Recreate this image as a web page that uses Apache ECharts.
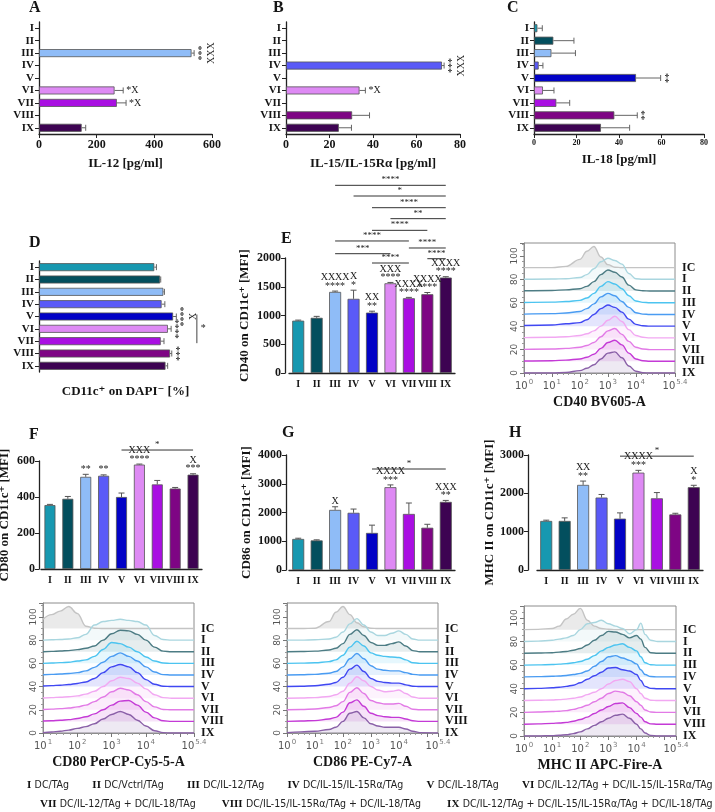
<!DOCTYPE html>
<html><head><meta charset="utf-8">
<script src="https://cdn.jsdelivr.net/npm/echarts@6/dist/echarts.min.js"></script>
<style>html,body{margin:0;padding:0;background:#fff}#c{width:715px;height:812px}</style>
</head><body><div id="c"></div>
<script>
// ---------------- DATA ----------------
const cats = ['I','II','III','IV','V','VI','VII','VIII','IX'];

// A: IL-12 [pg/ml]
const il12Mean = [null,null,529,null,null,262,270,null,148];
const il12Sd   = [null,null,9,null,null,30,32,null,14];
const il12Sig  = ['','','***\nXXX','','','*X','*X','',''];
// B: IL-15/IL-15Rα [pg/ml]
const il15Mean = [null,null,null,71.7,null,33.8,null,30.4,24.3];
const il15Sd   = [null,null,null,1,null,2.7,null,8,5.8];
const il15Sig  = ['','','','***\nXXX','','*X','','',''];
// C: IL-18 [pg/ml]
const il18Mean = [1.6,9.1,8.2,2.2,48,4.2,10.5,37.8,31.5];
const il18Sd   = [2.3,9.7,11.3,2,11.6,5.2,6.3,10.8,13.5];
const il18Sig  = ['','','','','**','','','**',''];
// D: CD11c+ on DAPI- [%]
const dcMean = [53.3,56,57.5,56.7,62,59.6,56.3,60.6,58.5];
const dcSd   = [1,0.3,0.5,1.5,1.5,1.5,1.5,0.8,1];
const dcSig  = ['','','','','****\nX','****','','***',''];
const dcBrackets = [[73,4,6,'*']];
// E: CD40 on CD11c+ [MFI]
const cd40Mean = [910,960,1410,1290,1050,1560,1300,1370,1660];
const cd40Sd   = [10,25,15,150,25,15,15,30,15];
const cd40Sig  = ['','','XXXX\n****','X\n*','XX\n**','XXX\n****','XXXX\n****','XXXX\n****','XXXX\n****'];
const cd40Brackets = [[2,8,3264,'****'],[3,8,3078,'*'],[4,8,2875,'****'],[5,8,2684,'**'],[4,7,2481,'****'],
  [2,6,2296,'****'],[2,5,2075,'***'],[6,8,2174,'****'],[7,8,1988,'****'],[4,6,1913,'****']];
// F: CD80 on CD11c+ [MFI]
const cd80Mean = [355,390,512,518,400,580,470,447,524];
const cd80Sd   = [4,13,14,5,22,3,22,6,5];
const cd80Sig  = ['','','**','**','','XXX\n****','','','X\n***'];
const cd80Brackets = [[4,8,661,'*']];
// G: CD86 on CD11c+ [MFI]
const cd86Mean = [1080,1030,2090,1990,1290,2880,1950,1470,2370];
const cd86Sd   = [25,20,110,130,270,80,380,120,50];
const cd86Sig  = ['','','X','','','XXXX\n***','','','XXX\n**'];
const cd86Brackets = [[4,8,3513,'*']];
// H: MHC II on CD11c+ [MFI]
const mhcMean = [1280,1280,2220,1890,1340,2540,1870,1450,2160];
const mhcSd   = [20,80,100,80,150,60,150,30,50];
const mhcSig  = ['','','XX\n**','','','XXXX\n***','','','X\n*'];
const mhcBrackets = [[4,8,2970,'*']];

// Histograms (log10 fluorescence positions; heights above each offset)
const histLabels  = ['IC','I','II','III','IV','V','VI','VII','VIII','IX'];
const histOffsets = [90,80,70,60,50,40,30,20,10,0];

const cd40X = [0,1,1.5,2,2.25,2.5,2.75,3,3.25,3.5,3.75,4,4.25,4.5,5.4];
const cd40Curves = [
  [0,0,1,7,14,18,9,2.5,0.3,0,0,0,0,0,0],
  [0,0.2,0.5,1.5,4,9,15,18,16,13,5,0.5,0,0,0],
  [0.2,0.5,1,2,4,8,14,18,16,12,5,1,0.2,0,0],
  [0.2,0.5,1,2,4,8,14,18,16,12,6,1.5,0.3,0,0],
  [0.3,0.7,1.2,2.5,5,9,15,18,16,11,6,1.5,0.3,0,0],
  [0.5,1,2,3,5.5,10,15,18,16,12,6,1.5,0.3,0,0],
  [0.2,0.5,1,2,3.5,6,10,15,18.5,14,7,2,0.5,0,0],
  [0.2,0.5,1,2,3.5,6,11,16,18,13,7,2,0.5,0,0],
  [0.2,0.5,1,2,3.5,6,11,16,18,14,7,2,0.5,0,0],
  [0,0,0.5,2,4,7,12,17,18,13,6,1.5,0.2,0,0]
];
const cd80X = [1,1.25,1.5,1.75,2,2.25,2.5,2.75,3,3.25,3.5,3.75,4,4.25,4.5,4.75,5.4];
const cd80Curves = [
  [8,12,15,19,13,2,0.3,0,0,0,0,0,0,0,0,0,0],
  [0,0.3,0.6,1,2,5,13,16,17,18,17,16,13,4,0.5,0,0],
  [0,0.3,0.6,1,1.8,3,5,10,15.5,18.5,18,15,10,4,0.5,0,0],
  [0,0.3,0.6,1,2,3,6,12,18,17,14,10,5.5,2,0.3,0,0],
  [0.2,0.5,0.8,1.2,2,3.5,6.5,11,16,19,16,12,7,2.5,0.3,0,0],
  [0.5,0.8,1.2,1.8,2.7,4,7,12,17,19,17,12,6,2,0.3,0,0],
  [0.2,0.5,0.8,1.2,2,3.5,6,10,15,18,17,13,8,3,0.5,0,0],
  [0.3,0.6,1,1.5,2.5,4,7,11,15.5,18.5,17,13,7,2.5,0.3,0,0],
  [0.3,0.6,1,1.5,2.5,4,6.5,10,14,17.5,18,14,8,3,0.5,0,0],
  [0.3,0.8,1.5,2.5,4,5.5,8,12,16,18.5,16,11,6,2,0.3,0,0]
];
const cd86X = [0,0.5,1,1.5,1.75,2,2.25,2.5,2.75,3,3.25,3.5,3.75,4,4.25,4.5,4.75,5.4];
const cd86Curves = [
  [0,0,0.3,6,14,19,12,5,1.5,0.3,0,0,0,0,0,0,0,0],
  [0,0,0.3,1,2.5,7,14,18.5,13,7,4,4,6,8,5,1,0,0],
  [0,0.2,0.5,1.5,3,7,15,19,14,8,5.5,5.5,7,8.5,5,1,0,0],
  [0,0.2,0.5,1.5,3,7,14,19,15,9,7,6,5.5,5,3,0.5,0,0],
  [0,0.2,0.5,1.5,3,7,14,18.5,14,8,5,4,3.5,3.5,2,0.5,0,0],
  [0,0.3,0.7,2,3.5,8,15,18.5,13,7,4.5,3.5,3,3,1.5,0.3,0,0],
  [0,0.2,0.5,1.5,3,6,13,18.5,15,10,7,5.5,6,7,4,1,0,0],
  [0,0.3,0.7,2,3.5,7,15,19,14,8,6,5,5,5.5,3,0.5,0,0],
  [0,0.3,0.7,2,3.5,8,16,18.5,13,7,5,4,3.5,3.5,2,0.5,0,0],
  [0.3,1,1.5,3,5,10,17,18.5,13,8,6,5,5,5,3.5,1.5,0.3,0]
];
const mhcX = [0,0.5,1,1.25,1.5,1.75,2,2.25,2.5,2.75,3,3.25,3.5,3.75,4,4.15,4.3,4.5,4.75,5.4];
const mhcCurves = [
  [0,0.2,1,3,9,13,18,8,3,1,0.3,0,0,0,0,0,0,0,0,0],
  [0,0.3,1,2,3,5,10,15,16,18,15,13,11,6.5,10,15.5,6,1,0,0],
  [0,0.2,0.5,1,1.5,2.5,4,7,11,15,18.5,18,16,13,15,12,5,0.5,0,0],
  [0,0.2,0.5,0.8,1.2,2,3,5,8,12,15,17,18,15,12,7,2,0.3,0,0],
  [0,0.2,0.5,0.8,1.2,2,3,5,9,13,17,18,16,14,11,6,2,0.3,0,0],
  [0,0.3,0.8,1.2,2,3,5,8,11,14,17.5,18,16,15,12,7,2,0.3,0,0],
  [0,0.2,0.5,0.8,1.2,2,3,5,7,10,14,17,18,16,10,6,2,0.3,0,0],
  [0,0.3,0.7,1,1.5,2.5,4,6,9,12,16,18,17,14,9,6,2,0.3,0,0],
  [0,0.3,0.7,1,1.5,2.5,4,6,9,12,15,17.5,18,14,9,6,2,0.3,0,0],
  [0,0,0.3,0.6,1,2,3.5,6,9,12,15,17.5,18.5,15,10,6,2.5,0.5,0,0]
];

const legendLine1 = [['I','DC/TAg'],['II','DC/Vctrl/TAg'],['III','DC/IL-12/TAg'],['IV','DC/IL-15/IL-15Rα/TAg'],['V','DC/IL-18/TAg'],['VI','DC/IL-12/TAg + DC/IL-15/IL-15Rα/TAg']];
const legendLine2 = [['VII','DC/IL-12/TAg + DC/IL-18/TAg'],['VIII','DC/IL-15/IL-15Rα/TAg + DC/IL-18/TAg'],['IX','DC/IL-12/TAg + DC/IL-15/IL-15Rα/TAg + DC/IL-18/TAg']];

// ---------------- STYLE ----------------
const barColors = ['#1798b0','#034f5e','#8fbcf7','#5a5af7','#0202c6','#de8af4','#a90fe2','#7e0584','#3d0352'];
const histColors = ['#c4c4c4','#a9d6df','#4d7c84','#4cc4f0','#4a9cf2','#4048f2','#f2a8f2','#e27ae6','#c43ad6','#8a60a8'];
const serif = "'Liberation Serif','DejaVu Serif',serif";
const sans = "'DejaVu Sans','Liberation Sans',sans-serif";
const cond = "'DejaVu Sans Condensed','Liberation Sans Narrow','Roboto Condensed','Liberation Sans',sans-serif";
const ink = '#151515';
const plain = v => String(v);

const opt = {animation:false, backgroundColor:'#fff', grid:[], xAxis:[], yAxis:[], series:[], graphic:[]};

function sigRich(s){
  return s.split('\n').map(l => (l.indexOf('X')>=0 ? '{x|'+l+'}' : '{s|'+l+'}')).join('\n');
}
const sigRichStyle = {x:{fontFamily:serif,fontSize:10,fill:'#222',lineHeight:9}, s:{fontFamily:serif,fontSize:10,fill:'#222',lineHeight:8}};

function axisLineStyle(){ return {show:true, lineStyle:{color:'#222', width:1.3}}; }

function hPanel(p){
  const gi = opt.grid.length;
  opt.grid.push({left:p.left, top:p.top, width:p.width, height:p.height, outerBoundsMode:'none', containLabel:false});
  opt.xAxis.push({type:'value', gridIndex:gi, min:0, max:p.max, interval:p.interval,
    axisLine:{show:!p.bare, lineStyle:{color:'#222', width:1.3}}, axisTick:{show:!p.bare, length:4, lineStyle:{color:'#222'}},
    splitLine:{show:false}, axisLabel:{show:!p.bare, fontFamily:serif, fontWeight:'bold', fontSize:p.tick||12, color:ink, margin:5, formatter:plain},
    name:p.name, nameLocation:'middle', nameGap:p.nameGap,
    nameTextStyle:{fontFamily:serif, fontWeight:'bold', fontSize:13, color:ink}});
  opt.yAxis.push({type:'category', gridIndex:gi, data:cats, inverse:true,
    axisLine:axisLineStyle(), axisTick:{show:true, alignWithLabel:true, interval:0, length:4, lineStyle:{color:'#222'}},
    axisLabel:{interval:0, fontFamily:serif, fontWeight:'bold', fontSize:11, color:ink, margin:5}});
  opt.series.push({type:'bar', xAxisIndex:gi, yAxisIndex:gi, barWidth:8,
    data:p.vals.map((v,i)=> v==null ? '-' : {value:v, itemStyle:{color:barColors[i]}}),
    itemStyle:{borderColor:'#555', borderWidth:0.8}});
  const vals=p.vals, sds=p.sds, sigs=p.sigs;
  opt.series.push({type:'custom', xAxisIndex:gi, yAxisIndex:gi, clip:false, z:5,
    data: cats.map((c,i)=>[vals[i]==null?0:vals[i], i]),
    renderItem(params, api){
      const i=params.dataIndex; if(vals[i]==null) return null;
      const a=api.coord([vals[i], i]), b=api.coord([vals[i]+sds[i], i]);
      const ch=[
        {type:'line', shape:{x1:a[0],y1:a[1],x2:b[0],y2:b[1]}, style:{stroke:'#666',lineWidth:1}},
        {type:'line', shape:{x1:b[0],y1:b[1]-3,x2:b[0],y2:b[1]+3}, style:{stroke:'#666',lineWidth:1}}];
      const s=sigs[i];
      if(s){
        const rot = s.indexOf('\n')>=0 || s.indexOf('X')<0;
        if(rot){
          const n = s.split('\n').length;
          ch.push({type:'text', x:b[0]+4+n*4.5, y:b[1], rotation:Math.PI/2,
            style:{text:s, fontFamily:serif, fontSize:10, fill:'#222', align:'center', verticalAlign:'middle', lineHeight:9}});
        } else {
          ch.push({type:'text', x:b[0]+3, y:b[1], style:{text:s, fontFamily:serif, fontSize:10, fill:'#222', align:'left', verticalAlign:'middle'}});
        }
      }
      return {type:'group', children:ch};
    }});
  if(p.brackets){
    const br=p.brackets;
    opt.series.push({type:'custom', xAxisIndex:gi, yAxisIndex:gi, clip:false, z:5,
      data: br.map(b=>[b[0], b[1]]),
      renderItem(params, api){
        const b=br[params.dataIndex];
        const p1=api.coord([b[0], b[1]]), p2=api.coord([b[0], b[2]]);
        return {type:'group', children:[
          {type:'line', shape:{x1:p1[0],y1:p1[1]-2,x2:p2[0],y2:p2[1]+2}, style:{stroke:'#444',lineWidth:1}},
          {type:'text', x:p1[0]+4, y:(p1[1]+p2[1])/2, style:{text:b[3], fontFamily:serif, fontSize:10, fill:'#222', align:'left', verticalAlign:'middle'}}]};
      }});
  }
}

function vPanel(p){
  const gi = opt.grid.length;
  opt.grid.push({left:p.left, top:p.top, width:p.width, height:p.height, outerBoundsMode:'none', containLabel:false});
  opt.xAxis.push({type:'category', gridIndex:gi, data:cats,
    axisLine:axisLineStyle(), axisTick:{show:false},
    axisLabel:{interval:0, fontFamily:serif, fontWeight:'bold', fontSize:10, color:ink, margin:6}});
  opt.yAxis.push({type:'value', gridIndex:gi, min:0, max:p.max, interval:p.interval, offset:p.offset,
    axisLine:axisLineStyle(), axisTick:{show:true, length:4, lineStyle:{color:'#222'}},
    splitLine:{show:false}, axisLabel:{fontFamily:serif, fontWeight:'bold', fontSize:12, color:ink, margin:4, formatter:plain},
    name:p.name, nameLocation:'middle', nameGap:p.nameGap, nameRotate:90,
    nameTextStyle:{fontFamily:serif, fontWeight:'bold', fontSize:13, color:ink}});
  opt.series.push({type:'bar', xAxisIndex:gi, yAxisIndex:gi, barWidth:p.barWidth||12,
    data:p.vals.map((v,i)=>({value:v, itemStyle:{color:barColors[i]}})),
    itemStyle:{borderColor:'#555', borderWidth:0.8}});
  const vals=p.vals, sds=p.sds, sigs=p.sigs;
  opt.series.push({type:'custom', xAxisIndex:gi, yAxisIndex:gi, clip:false, z:5,
    data: cats.map((c,i)=>[i, vals[i]]),
    renderItem(params, api){
      const i=params.dataIndex;
      const a=api.coord([i, vals[i]]), b=api.coord([i, vals[i]+sds[i]]);
      const ch=[
        {type:'line', shape:{x1:a[0],y1:a[1],x2:b[0],y2:b[1]}, style:{stroke:'#555',lineWidth:1}},
        {type:'line', shape:{x1:b[0]-3,y1:b[1],x2:b[0]+3,y2:b[1]}, style:{stroke:'#555',lineWidth:1}}];
      if(sigs[i]){
        ch.push({type:'text', x:b[0], y:b[1]-1, style:{text:sigRich(sigs[i]), rich:sigRichStyle, align:'center', verticalAlign:'bottom', fontFamily:serif, fontSize:10, fill:'#222'}});
      }
      return {type:'group', children:ch};
    }});
  const br=p.brackets;
  if(br){
    opt.series.push({type:'custom', xAxisIndex:gi, yAxisIndex:gi, clip:false, z:5,
      data: br.map(b=>[b[0], b[2]]),
      renderItem(params, api){
        const b=br[params.dataIndex];
        const p1=api.coord([b[0], b[2]]), p2=api.coord([b[1], b[2]]);
        return {type:'group', children:[
          {type:'line', shape:{x1:p1[0],y1:p1[1],x2:p2[0],y2:p2[1]}, style:{stroke:'#333',lineWidth:1}},
          {type:'text', x:(p1[0]+p2[0])/2, y:p1[1]-1, style:{text:b[3], fontFamily:serif, fontSize:9, fill:'#222', align:'center', verticalAlign:'bottom'}}]};
      }});
  }
}

function histPanel(p){
  const gi = opt.grid.length;
  opt.grid.push({left:p.left, top:p.top, width:p.width, height:p.height, outerBoundsMode:'none', containLabel:false,
    show:true, borderColor:'#8c8c8c', borderWidth:1, backgroundColor:'transparent'});
  opt.xAxis.push({type:'value', gridIndex:gi, min:p.xmin, max:5.4, interval:1,
    axisLine:{show:true, lineStyle:{color:'#8c8c8c', width:1}},
    axisTick:{show:true, length:4, lineStyle:{color:'#777'}},
    minorTick:{show:true, splitNumber:5, length:2, lineStyle:{color:'#999'}},
    splitLine:{show:false},
    axisLabel:{margin:6, color:'#555', fontFamily:sans, showMaxLabel:true, showMinLabel:true,
      formatter:v=>{ if(Math.abs(v-5)<1e-6) return ''; const e = Math.abs(v-5.4)<1e-6 ? '5.4' : String(Math.round(v)); return '{a|10}{b|'+e+'}'; },
      rich:{a:{fontSize:10, color:'#555', fontFamily:sans}, b:{fontSize:7, color:'#777', fontFamily:sans, padding:[0,0,7,1]}}},
    name:p.title, nameLocation:'middle', nameGap:p.nameGap,
    nameTextStyle:{fontFamily:serif, fontWeight:'bold', fontSize:14, color:ink}});
  opt.yAxis.push({type:'value', gridIndex:gi, min:0, max:p.ymax, interval:20,
    axisLine:{show:true, lineStyle:{color:'#8c8c8c', width:1}},
    axisTick:{show:true, length:4, lineStyle:{color:'#777'}},
    minorTick:{show:true, splitNumber:4, length:2, lineStyle:{color:'#999'}},
    splitLine:{show:false},
    axisLabel:{rotate:90, fontSize:9, color:'#555', fontFamily:sans, margin:5, formatter:v=> v>100 ? '' : String(v)}});
  const xs=p.xs;
  p.curves.forEach((h,k)=>{
    const off=histOffsets[k];
    opt.series.push({type:'line', xAxisIndex:gi, yAxisIndex:gi, silent:true, symbol:'none',
      smooth:0.4, smoothMonotone:'x',
      data: xs.map((x,j)=>[x, off + h[j]]),
      lineStyle:{color:histColors[k], width:1.4},
      areaStyle:{color:histColors[k], opacity: k===0 ? 0.35 : 0.14, origin: off},
      endLabel:{show:true, formatter:histLabels[k], distance:7, fontFamily:serif, fontWeight:'bold', fontSize:12, color:ink},
      z:2});
  });
}

// ---------------- PANELS ----------------
hPanel({left:39, top:22, width:173, height:112, max:600, interval:200, name:'IL-12 [pg/ml]', nameGap:23,
  vals:il12Mean, sds:il12Sd, sigs:il12Sig});
hPanel({left:286, top:22, width:174, height:112, max:80, interval:20, name:'IL-15/IL-15Rα [pg/ml]', nameGap:23,
  vals:il15Mean, sds:il15Sd, sigs:il15Sig});
hPanel({left:534, top:22, width:170, height:112, max:80, interval:20, tick:8, name:'IL-18 [pg/ml]', nameGap:19,
  vals:il18Mean, sds:il18Sd, sigs:il18Sig});
hPanel({left:39, top:261, width:173, height:111, max:80, interval:20, bare:true, name:'CD11c⁺ on DAPI⁻ [%]', nameGap:13,
  vals:dcMean, sds:dcSd, sigs:dcSig, brackets:dcBrackets});

vPanel({left:289, top:258, width:166, height:115, offset:4, max:2000, interval:500, name:'CD40 on CD11c⁺ [MFI]', nameGap:34,
  vals:cd40Mean, sds:cd40Sd, sigs:cd40Sig, brackets:cd40Brackets});
vPanel({left:41, top:461, width:161, height:108, offset:2, max:600, interval:200, name:'CD80 on CD11c⁺ [MFI]', nameGap:28, barWidth:11,
  vals:cd80Mean, sds:cd80Sd, sigs:cd80Sig, brackets:cd80Brackets});
vPanel({left:289, top:455, width:166, height:115, offset:3, max:4000, interval:1000, name:'CD86 on CD11c⁺ [MFI]', nameGap:33,
  vals:cd86Mean, sds:cd86Sd, sigs:cd86Sig, brackets:cd86Brackets});
vPanel({left:537, top:455, width:166, height:115, offset:9, max:3000, interval:1000, name:'MHC II on CD11c⁺ [MFI]', nameGap:30,
  vals:mhcMean, sds:mhcSd, sigs:mhcSig, brackets:mhcBrackets});

histPanel({left:524, top:243, width:151, height:130, xmin:0, ymax:111, xs:cd40X, curves:cd40Curves, title:'CD40 BV605-A', nameGap:22});
histPanel({left:43, top:603, width:151, height:130, xmin:1, ymax:112, xs:cd80X, curves:cd80Curves, title:'CD80 PerCP-Cy5-5-A', nameGap:22});
histPanel({left:287, top:603, width:151, height:130, xmin:0, ymax:112, xs:cd86X, curves:cd86Curves, title:'CD86 PE-Cy7-A', nameGap:22});
histPanel({left:524, top:606, width:152, height:130, xmin:0, ymax:110, xs:mhcX, curves:mhcCurves, title:'MHC II APC-Fire-A', nameGap:22});

// Panel letters
[['A',35,8],['B',279,8],['C',513,8],['D',35,243],['E',287,239],['F',35,435],['G',288,433],['H',515,433]].forEach(l=>{
  opt.graphic.push({type:'text', left:l[1]-6, top:l[2]-8, style:{text:l[0], fontFamily:serif, fontWeight:'bold', fontSize:16, fill:ink}});
});

// Legend lines (items spread evenly between the line's start and end)
const legRich = {r:{fontFamily:serif, fontWeight:'bold', fontSize:11, fill:'#111'}, t:{fontFamily:cond, fontSize:10.5, fill:'#222'}};
const mctx = document.createElement('canvas').getContext('2d');
function itemWidth(it){
  mctx.font = 'bold 11px ' + serif; const a = mctx.measureText(it[0] + ' ').width;
  mctx.font = '10.5px ' + cond; const b = mctx.measureText(it[1]).width;
  return a + b;
}
function layLine(items, x0, x1, top){
  const ws = items.map(itemWidth), tot = ws.reduce((s,w)=>s+w,0);
  const gap = (x1 - x0 - tot) / (items.length - 1);
  let x = x0;
  items.forEach((it,i)=>{
    opt.graphic.push({type:'text', left:x, top:top, style:{text:'{r|'+it[0]+'} {t|'+it[1]+'}', rich:legRich}});
    x += ws[i] + gap;
  });
}
layLine(legendLine1, 27, 712, 779);
layLine(legendLine2, 40, 712, 798);

const chart = echarts.init(document.getElementById('c'), null, {renderer:'canvas'});
chart.setOption(opt);
</script></body></html>
